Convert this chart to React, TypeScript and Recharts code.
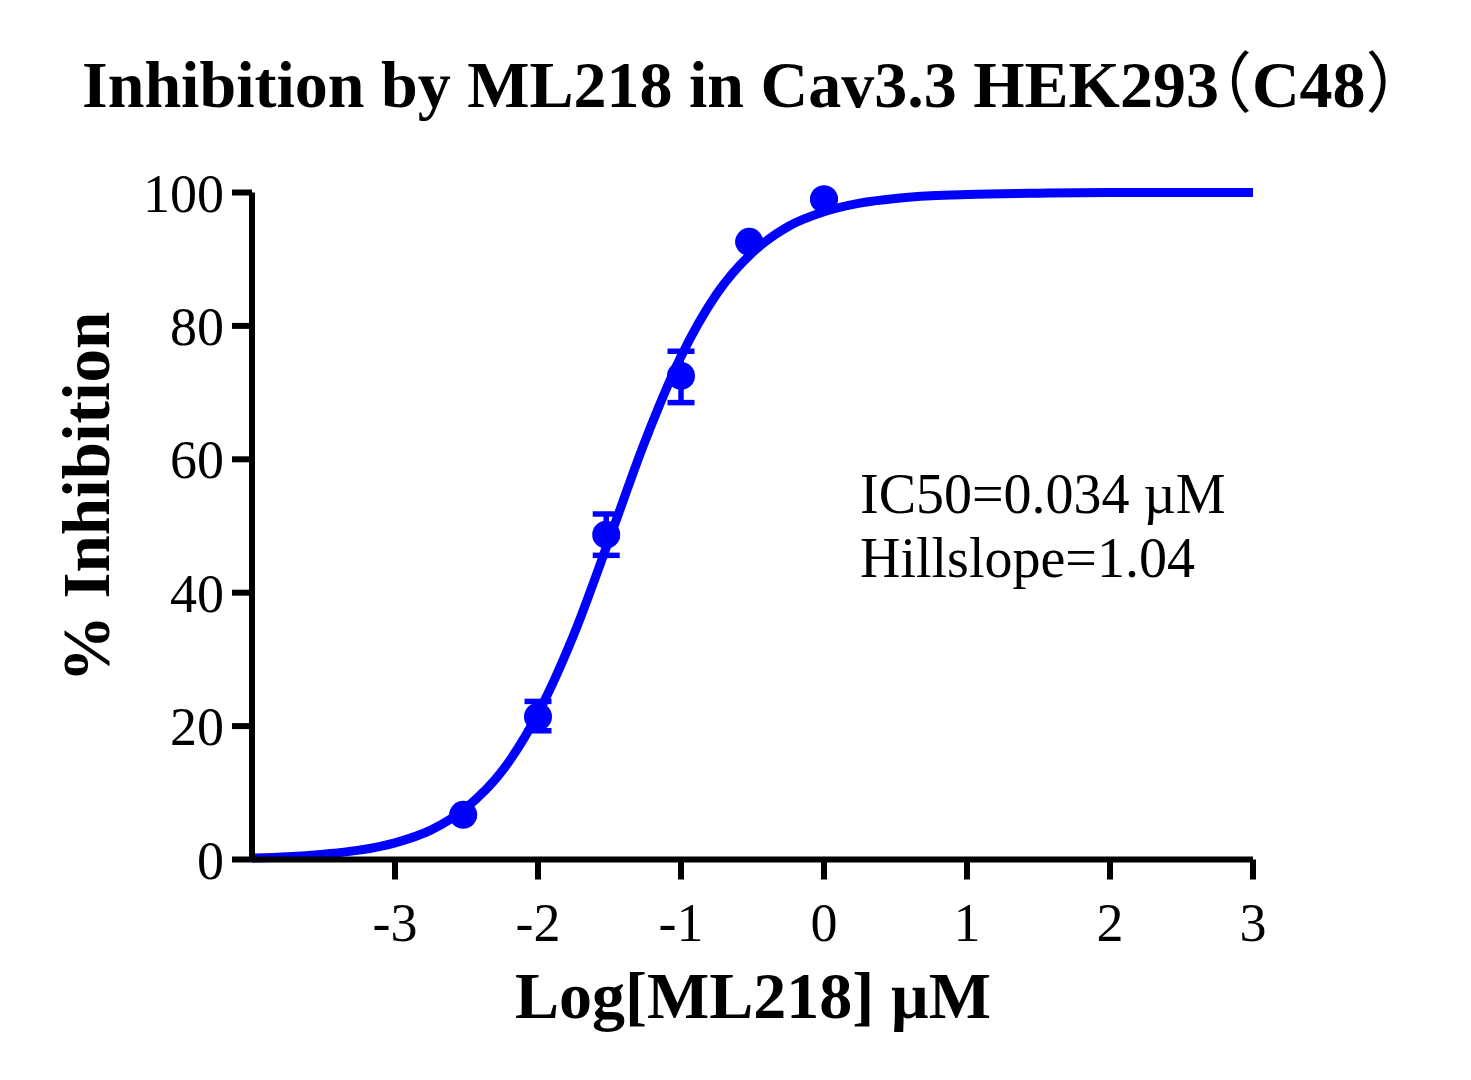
import React from "react";
import {
  ComposedChart,
  Line,
  Scatter,
  XAxis,
  YAxis,
  ErrorBar,
} from "recharts";

// Measured means (log concentration in µM vs % inhibition)
const logConc = [-2.523, -2.0, -1.523, -1.0, -0.523, 0.0];
const inhibition = [6.7, 21.4, 48.7, 72.5, 92.6, 99.0];
// error [below, above]
const errLow = [0, 2.1, 3.1, 4.0, 0, 0];
const errHigh = [0, 2.3, 3.1, 3.7, 0, 0];

// Fitted curve
const curveX = [
  -4, -3.75, -3.5, -3.25, -3, -2.75, -2.5, -2.25, -2, -1.75, -1.5, -1.25, -1,
  -0.75, -0.5, -0.25, 0, 0.25, 0.5, 0.75, 1, 1.5, 2, 2.5, 3,
];
const curveY = [
  0.2, 0.4, 0.8, 1.4, 2.5, 4.4, 7.8, 13.3, 21.9, 33.7, 48.1, 62.8, 75.4, 84.8,
  91.0, 94.9, 97.1, 98.4, 99.1, 99.5, 99.7, 99.9, 100, 100, 100,
];

const xTicks = [-3, -2, -1, 0, 1, 2, 3];
const yTicks = [0, 20, 40, 60, 80, 100];

const points = logConc.map((x, i) => ({
  x,
  y: inhibition[i],
  err: [errLow[i], errHigh[i]],
}));
const curve = curveX.map((x, i) => ({ x, y: curveY[i] }));

const BLUE = "#0000FF";
const FONT = "'Liberation Serif', 'Times New Roman', serif";
const CJK = "'Noto Sans CJK SC'";

const Dot = (props: any) => {
  const { cx, cy } = props;
  if (cx == null || cy == null) return null;
  return <circle cx={cx} cy={cy} r={14} fill={BLUE} />;
};

export default function App() {
  return (
    <div
      style={{
        position: "absolute",
        left: 0,
        top: 0,
        width: 1471,
        height: 1080,
        background: "#fff",
      }}
    >
      <ComposedChart
        width={1471}
        height={1080}
        margin={{ top: 192.5, right: 218, bottom: 120.5, left: 100 }}
      >
        <XAxis
          type="number"
          dataKey="x"
          domain={[-4, 3]}
          ticks={xTicks}
          interval={0}
          height={100}
          tickSize={20}
          tickMargin={23}
          axisLine={{ stroke: "#000", strokeWidth: 6 }}
          tickLine={{ stroke: "#000", strokeWidth: 6 }}
          tick={{ fontSize: 54, fill: "#000", fontFamily: FONT }}
        />
        <YAxis
          type="number"
          dataKey="y"
          domain={[0, 100]}
          ticks={yTicks}
          interval={0}
          width={152}
          tickSize={20}
          tickMargin={8}
          axisLine={{ stroke: "#000", strokeWidth: 6 }}
          tickLine={{ stroke: "#000", strokeWidth: 6 }}
          tick={{ fontSize: 54, fill: "#000", fontFamily: FONT }}
        />
        <Line
          data={curve}
          dataKey="y"
          type="monotone"
          stroke={BLUE}
          strokeWidth={9}
          dot={false}
          activeDot={false}
          isAnimationActive={false}
        />
        <Scatter
          data={points}
          dataKey="y"
          fill={BLUE}
          shape={Dot}
          isAnimationActive={false}
        >
          <ErrorBar
            dataKey="err"
            direction="y"
            width={13.5}
            strokeWidth={5.5}
            stroke={BLUE}
            isAnimationActive={false}
          />
        </Scatter>
      </ComposedChart>
      <svg
        width={1471}
        height={1080}
        style={{ position: "absolute", left: 0, top: 0, pointerEvents: "none" }}
      >
        <text
          x={82}
          y={107}
          fontFamily={FONT}
          fontWeight="bold"
          fontSize={66}
          fill="#000"
        >
          Inhibition by ML218 in Cav3.3 HEK293
          <tspan
            fontFamily={CJK}
            fontWeight="normal"
            style={{ fontFeatureSettings: '"halt"' }}
          >
            （
          </tspan>
          <tspan fontFamily={FONT}>C48</tspan>
          <tspan
            fontFamily={CJK}
            fontWeight="normal"
            style={{ fontFeatureSettings: '"halt"' }}
          >
            ）
          </tspan>
        </text>
        <text
          x={109}
          y={497}
          transform="rotate(-90 109 497)"
          textAnchor="middle"
          fontFamily={FONT}
          fontWeight="bold"
          fontSize={67}
          fill="#000"
        >
          % Inhibition
        </text>
        <text
          x={753}
          y={1018}
          textAnchor="middle"
          fontFamily={FONT}
          fontWeight="bold"
          fontSize={66}
          fill="#000"
        >
          Log[ML218] µM
        </text>
        <text x={860} y={513} fontFamily={FONT} fontSize={56} fill="#000">
          IC50=0.034 µM
        </text>
        <text x={860} y={577} fontFamily={FONT} fontSize={56} fill="#000">
          Hillslope=1.04
        </text>
      </svg>
    </div>
  );
}
